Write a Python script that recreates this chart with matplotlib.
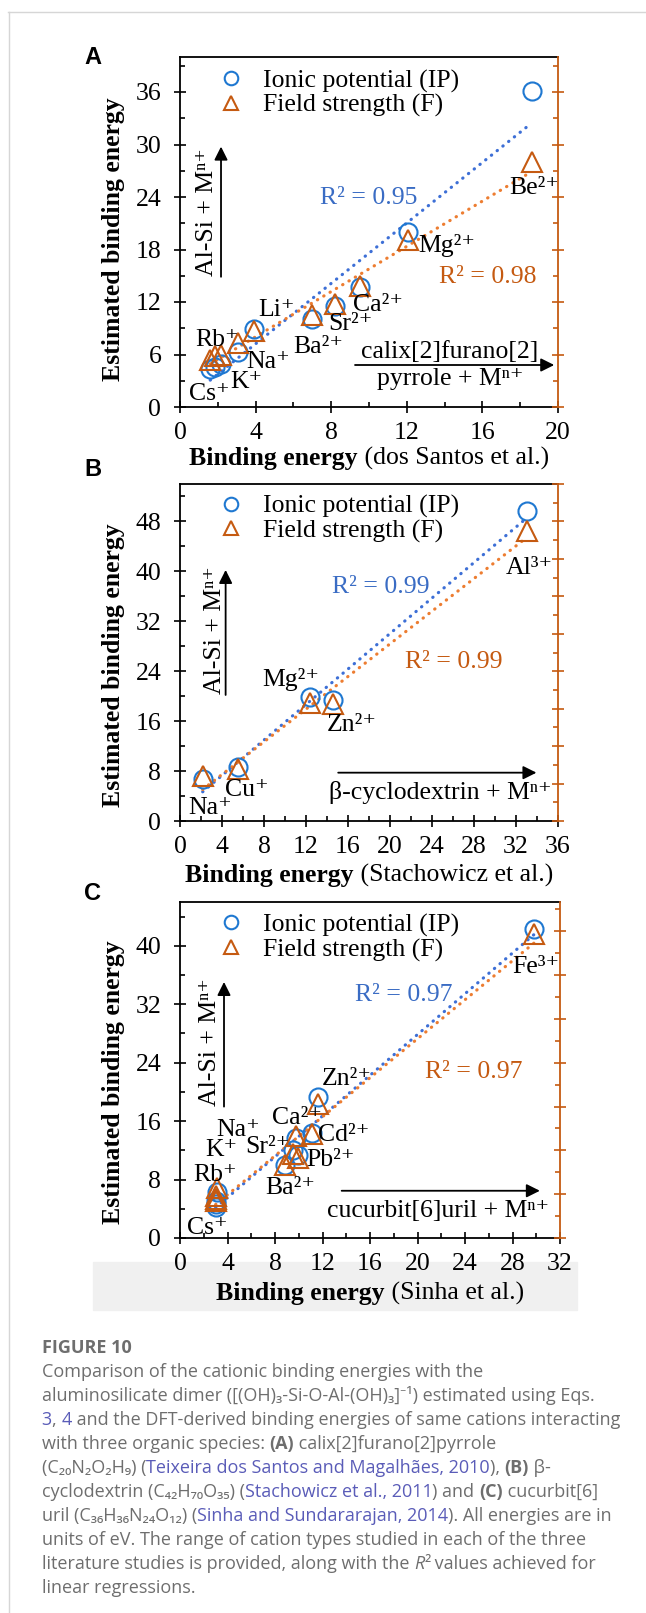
import numpy as np
import matplotlib
matplotlib.use('Agg')
import matplotlib.pyplot as plt
from matplotlib.ticker import MultipleLocator
from matplotlib.lines import Line2D
from matplotlib.patches import Rectangle

plt.rcParams['font.family'] = ['Liberation Serif', 'DejaVu Serif']

W, H = 646, 1613
FS = 18.5
BLUE_PT = '#1f78d1'
BLUE_LN = '#3d6fd6'
BLUE_TX = '#3a6cc4'
ORANGE_PT = '#c55a11'
ORANGE_LN = '#ed7d31'
CAP_GRAY = '#6e6e6e'
CAP_LINK = '#5a5cb8'

# ---- data (eV) ----
# A: calix[2]furano[2]pyrrole, dos Santos et al.
a_cations = ['Cs⁺', 'Rb⁺', 'K⁺', 'Na⁺', 'Li⁺', 'Ba²⁺', 'Sr²⁺', 'Ca²⁺', 'Mg²⁺', 'Be²⁺']
a_ref = [1.6, 1.85, 2.15, 3.05, 3.9, 7.0, 8.2, 9.52, 12.08, 18.6]
a_ip = [4.3, 4.6, 4.9, 6.3, 8.9, 10.1, 11.6, 13.7, 19.96, 36.1]
a_fs = [5.4, 5.8, 5.9, 7.3, 8.7, 10.5, 11.8, 13.8, 19.1, 28.05]
a_r2 = ['R² = 0.95', 'R² = 0.98']

# B: beta-cyclodextrin, Stachowicz et al.
b_cations = ['Na⁺', 'Cu⁺', 'Mg²⁺', 'Zn²⁺', 'Al³⁺']
b_ref = [2.16, 5.5, 12.38, 14.6, 33.0]
b_ip = [6.7, 8.7, 19.8, 19.4, 49.6]
b_fs = [7.2, 8.4, 18.9, 18.7, 46.4]
b_r2 = ['R² = 0.99', 'R² = 0.99']

# C: cucurbit[6]uril, Sinha et al.
c_cations = ['Na⁺', 'K⁺', 'Rb⁺', 'Cs⁺', 'Ba²⁺', 'Sr²⁺', 'Pb²⁺', 'Ca²⁺', 'Cd²⁺', 'Zn²⁺', 'Fe³⁺']
c_ref = [3.15, 3.05, 3.0, 3.0, 8.85, 9.55, 9.97, 9.77, 11.15, 11.6, 29.8]
c_ip = [6.3, 5.0, 4.6, 4.2, 9.96, 12.0, 11.3, 13.7, 14.4, 19.3, 42.3]
c_fs = [6.9, 5.8, 5.3, 5.0, 10.0, 11.5, 11.0, 13.9, 14.3, 18.4, 41.6]
c_r2 = ['R² = 0.97', 'R² = 0.97']

# label offsets (points) from each IP marker
a_off = [(-15.6, -17.6), (-14.3, 18.9), (6.8, -12.6), (6.1, -7.6), (3.4, 13.8),
         (-13.6, -20.1), (-4.8, -13.2), (-4.8, -13.2), (7.1, -9.2), (-16.3, -69.9)]
b_off = [(-10.3, -21.1), (-9.1, -16.6), (-34.6, 12.6), (-4.5, -18.0), (-15.1, -40.9)]
c_off = [(-0.5, 44.7), (-8.1, 36.8), (-16.1, 21.0), (-20.9, -15.0), (-14.4, -16.6),
         (-34.8, 2.1), (6.0, -3.2), (-17.5, 14.2), (4.3, -1.6), (2.9, 13.2), (-15.8, -27.4)]


def px_box(left, top, right, bottom):
    return [left / W, 1 - bottom / H, (right - left) / W, (bottom - top) / H]


def text_width(fig, r, s, **kw):
    t = fig.text(0, 0, '|' + s + '|', **kw)
    t2 = fig.text(0, 0, '||', **kw)
    w = t.get_window_extent(r).width - t2.get_window_extent(r).width
    t.remove()
    t2.remove()
    return w


def rich_line(fig, x, y, parts, ha='left', **base):
    r = fig.canvas.get_renderer()
    widths = [text_width(fig, r, s, **{**base, **kw}) for s, kw in parts]
    x0 = x - sum(widths) / 2 if ha == 'center' else x
    for (s, kw), w in zip(parts, widths):
        fig.text(x0 / W, 1 - y / H, s, ha='left', va='baseline', **{**base, **kw})
        x0 += w


def draw_panel(ax, ref, ip, fs, cations, offs, r2, xmax, ymax, xmaj, ymaj, spec):
    ax.set_xlim(0, xmax)
    ax.set_ylim(0, ymax)
    ax.xaxis.set_major_locator(MultipleLocator(xmaj))
    ax.xaxis.set_minor_locator(MultipleLocator(xmaj / 2))
    ax.yaxis.set_major_locator(MultipleLocator(ymaj))
    ax.yaxis.set_minor_locator(MultipleLocator(ymaj / 2))
    ax.tick_params(which='major', direction='inout', length=9, width=1.2, labelsize=FS)
    ax.tick_params(which='minor', direction='in', length=3.5, width=1.2)
    ax.tick_params(which='both', right=False, top=False)
    ax.tick_params(axis='y', pad=9)
    ax.tick_params(axis='x', pad=6.5)
    ax.spines['right'].set_visible(False)
    for s in ['left', 'bottom', 'top']:
        ax.spines[s].set_linewidth(1.3)

    ax2 = ax.twinx()
    ax2.set_ylim(0, ymax)
    ax2.yaxis.set_major_locator(MultipleLocator(6))
    ax2.yaxis.set_minor_locator(MultipleLocator(3))
    ax2.tick_params(which='major', direction='inout', length=9, width=1.2,
                    color=ORANGE_PT, labelright=False)
    ax2.tick_params(which='minor', direction='in', length=3.5, width=1.2, color=ORANGE_PT)
    for s in ['left', 'top', 'bottom']:
        ax2.spines[s].set_visible(False)
    ax2.spines['right'].set_color(ORANGE_PT)
    ax2.spines['right'].set_linewidth(1.3)

    ref = np.array(ref)
    xs = np.array([ref.min(), ref.max()])
    for ys, c in [(ip, BLUE_LN), (fs, ORANGE_LN)]:
        k, b = np.polyfit(ref, ys, 1)
        ax.plot(xs, k * xs + b, ls=(0, (0.1, 2.2)), lw=2.3, color=c,
                dash_capstyle='round', zorder=2)

    ax.plot(ref, ip, 'o', ms=13, mfc='none', mec=BLUE_PT, mew=1.5,
            label='Ionic potential (IP)', zorder=3)
    ax.plot(ref, fs, '^', ms=14, mfc='none', mec=ORANGE_PT, mew=1.5,
            label='Field strength (F)', zorder=3)

    for name, x, y, off in zip(cations, ref, ip, offs):
        ax.annotate(name, (x, y), xytext=off, textcoords='offset points',
                    ha='left', va='center', fontsize=FS, zorder=4)

    ax.legend(loc='upper left', bbox_to_anchor=(0.1, spec['leg_y']), frameon=False,
              fontsize=FS, handlelength=1.0, handletextpad=0.75, labelspacing=0.05,
              borderaxespad=0, borderpad=0, markerscale=0.75, numpoints=1)

    ax.text(spec['r2a'][0], spec['r2a'][1], r2[0], transform=ax.transAxes,
            color=BLUE_TX, fontsize=FS, ha='left', va='center')
    ax.text(spec['r2b'][0], spec['r2b'][1], r2[1], transform=ax.transAxes,
            color=ORANGE_PT, fontsize=FS, ha='left', va='center')

    arrow = dict(arrowstyle='-|>', color='black', lw=1.3, mutation_scale=20,
                 shrinkA=0, shrinkB=0)
    hx0, hx1, hy = spec['harrow']
    ax.annotate('', xy=(hx1, hy), xytext=(hx0, hy), xycoords='axes fraction',
                arrowprops=arrow)
    for txt, tx, ty in spec['htext']:
        ax.text(tx, ty, txt, transform=ax.transAxes, fontsize=FS,
                ha='center', va='center')
    vx, vy0, vy1 = spec['varrow']
    ax.annotate('', xy=(vx, vy1), xytext=(vx, vy0), xycoords='axes fraction',
                arrowprops=arrow)
    ax.text(spec['vtext'][0], spec['vtext'][1], 'Al-Si + Mⁿ⁺', transform=ax.transAxes,
            fontsize=FS, rotation=90, ha='center', va='center')

    ax.set_ylabel('Estimated binding energy', fontsize=FS, fontweight='bold')
    ax.yaxis.set_label_coords(-0.145, spec['ylab_y'])


fig = plt.figure(figsize=(W / 100, H / 100), dpi=100)

# page frame and grey band under panel C axis
fig.add_artist(Line2D([8 / W, 1], [1 - 12 / H] * 2, color='#d6d6d6', lw=1))
fig.add_artist(Line2D([8.5 / W] * 2, [0, 1 - 12 / H], color='#d6d6d6', lw=1))
fig.add_artist(Rectangle((93 / W, 1 - 1310 / H), (577 - 93) / W, 48 / H,
                         transform=fig.transFigure, color='#f0f0f0', zorder=-1))

ax_a = fig.add_axes(px_box(180, 57, 558, 407))
ax_b = fig.add_axes(px_box(180, 484, 558, 821))
ax_c = fig.add_axes(px_box(180, 902, 560, 1238))

draw_panel(ax_a, a_ref, a_ip, a_fs, a_cations, a_off, a_r2, 20, 40, 4, 6, dict(
    leg_y=0.965, r2a=(0.37, 0.5975), r2b=(0.685, 0.3725),
    harrow=(0.463, 0.99, 0.12),
    htext=[('calix[2]furano[2]', 0.714, 0.1575), ('pyrrole + Mⁿ⁺', 0.716, 0.081)],
    varrow=(0.1085, 0.372, 0.744), vtext=(0.0705, 0.558), ylab_y=0.48))
draw_panel(ax_b, b_ref, b_ip, b_fs, b_cations, b_off, b_r2, 36, 54, 4, 8, dict(
    leg_y=0.968, r2a=(0.401, 0.695), r2b=(0.595, 0.473),
    harrow=(0.4185, 0.943, 0.1434),
    htext=[('β-cyclodextrin + Mⁿ⁺', 0.689, 0.084)],
    varrow=(0.1207, 0.374, 0.745), vtext=(0.0925, 0.567), ylab_y=0.463))
draw_panel(ax_c, c_ref, c_ip, c_fs, c_cations, c_off, c_r2, 32, 46, 4, 8, dict(
    leg_y=0.966, r2a=(0.4605, 0.723), r2b=(0.645, 0.495),
    harrow=(0.4254, 0.947, 0.1406),
    htext=[('cucurbit[6]uril + Mⁿ⁺', 0.680, 0.081)],
    varrow=(0.1158, 0.391, 0.762), vtext=(0.079, 0.584), ylab_y=0.464))

# x labels: bold + regular
for ax, src, base in [(ax_a, 'dos Santos et al.', 465), (ax_b, 'Stachowicz et al.', 882),
                      (ax_c, 'Sinha et al.', 1300)]:
    p = ax.get_position()
    cx = (p.x0 + p.x1) / 2 * W
    rich_line(fig, cx, base, [('Binding energy', dict(fontweight='bold')),
                              (' (' + src + ')', {})], ha='center', fontsize=FS)

for lab, y in [('A', 57), ('B', 469), ('C', 894)]:
    fig.text(84 / W, 1 - y / H, lab, family=['Liberation Sans', 'DejaVu Sans'],
             fontweight='bold', fontsize=17, ha='left', va='center')

# caption
cap = dict(family=['Open Sans', 'Noto Sans', 'DejaVu Sans'], fontsize=13.0, color=CAP_GRAY)
bold = dict(fontweight='bold')
link = dict(color=CAP_LINK)
caption = [
    [('FIGURE 10', bold)],
    [('Comparison of the cationic binding energies with the', {})],
    [('aluminosilicate dimer ([(OH)₃-Si-O-Al-(OH)₃]⁻¹) estimated using Eqs.', {})],
    [('3', link), (', ', {}), ('4', link),
     (' and the DFT-derived binding energies of same cations interacting', {})],
    [('with three organic species: ', {}), ('(A)', bold), (' calix[2]furano[2]pyrrole', {})],
    [('(C₂₀N₂O₂H₉) (', {}), ('Teixeira dos Santos and Magalhães, 2010', link),
     ('), ', {}), ('(B)', bold), (' β-', {})],
    [('cyclodextrin (C₄₂H₇₀O₃₅) (', {}), ('Stachowicz et al., 2011', link),
     (') and ', {}), ('(C)', bold), (' cucurbit[6]', {})],
    [('uril (C₃₆H₃₆N₂₄O₁₂) (', {}), ('Sinha and Sundararajan, 2014', link),
     ('). All energies are in', {})],
    [('units of eV. The range of cation types studied in each of the three', {})],
    [('literature studies is provided, along with the ', {}), ('R', dict(style='italic')),
     ('²', {}), (' values achieved for', {})],
    [('linear regressions.', {})],
]
cap_base = [1353] + [1377 + 24 * i for i in range(10)]
for parts, y in zip(caption, cap_base):
    rich_line(fig, 41.7, y, parts, **cap)

fig.savefig('out.png', dpi=100)
